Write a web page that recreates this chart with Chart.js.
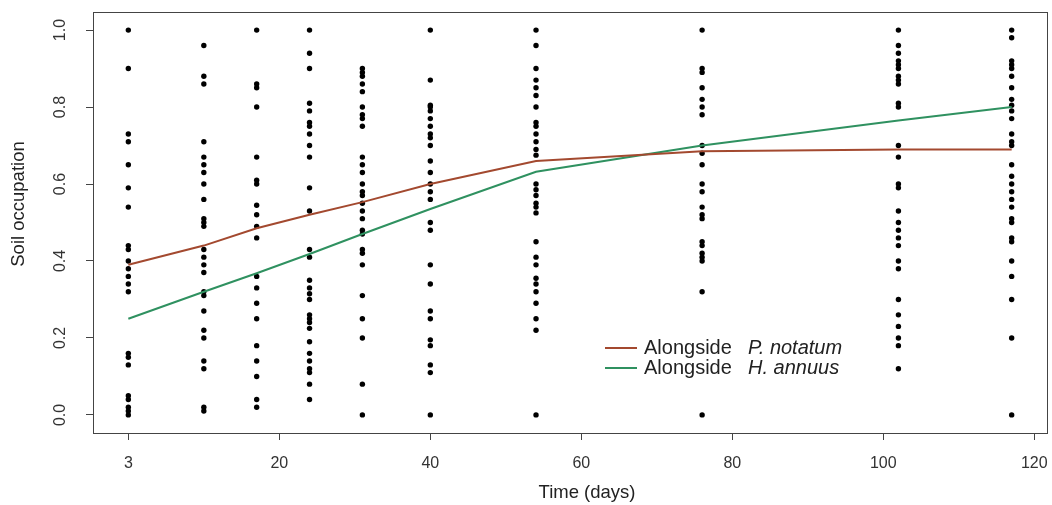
<!DOCTYPE html>
<html>
<head>
<meta charset="utf-8">
<script src="https://cdn.jsdelivr.net/npm/chart.js@4/dist/chart.umd.min.js"></script>
<style>
  html, body { margin: 0; padding: 0; background: #fff; }
</style>
</head>
<body>
<canvas id="myChart" width="1052" height="505"></canvas>
<script>
const ctx = document.getElementById('myChart').getContext('2d');

// sampling days (the first sampling sits on the tick labelled "3")
const days = [0, 10, 17, 24, 31, 40, 54, 76, 102, 117];

// observed soil occupation per sampling day
const occ0 = [1.0, 0.90, 0.73, 0.71, 0.65, 0.59, 0.54, 0.44, 0.43, 0.40, 0.38, 0.36, 0.34, 0.32, 0.16, 0.15, 0.13, 0.05, 0.04, 0.02, 0.01, 0.0];
const occ10 = [0.96, 0.88, 0.86, 0.71, 0.67, 0.65, 0.63, 0.60, 0.56, 0.51, 0.50, 0.49, 0.43, 0.41, 0.39, 0.37, 0.32, 0.31, 0.27, 0.22, 0.20, 0.14, 0.12, 0.02, 0.01];
const occ17 = [1.0, 0.86, 0.85, 0.80, 0.67, 0.61, 0.60, 0.545, 0.52, 0.49, 0.46, 0.36, 0.33, 0.29, 0.25, 0.18, 0.14, 0.10, 0.04, 0.02];
const occ24 = [1.0, 0.94, 0.90, 0.81, 0.79, 0.76, 0.75, 0.73, 0.70, 0.67, 0.59, 0.53, 0.43, 0.41, 0.35, 0.33, 0.315, 0.30, 0.26, 0.25, 0.24, 0.225, 0.19, 0.16, 0.14, 0.12, 0.11, 0.08, 0.04];
const occ31 = [0.90, 0.89, 0.88, 0.86, 0.84, 0.80, 0.78, 0.77, 0.75, 0.67, 0.65, 0.63, 0.60, 0.58, 0.57, 0.55, 0.53, 0.51, 0.48, 0.47, 0.43, 0.42, 0.39, 0.31, 0.25, 0.20, 0.08, 0.0];
const occ40 = [1.0, 0.87, 0.805, 0.80, 0.79, 0.77, 0.75, 0.73, 0.72, 0.70, 0.66, 0.63, 0.60, 0.58, 0.56, 0.50, 0.48, 0.39, 0.34, 0.27, 0.25, 0.195, 0.18, 0.13, 0.11, 0.0];
const occ54 = [1.0, 0.96, 0.90, 0.87, 0.85, 0.83, 0.80, 0.76, 0.75, 0.73, 0.71, 0.69, 0.675, 0.60, 0.585, 0.57, 0.55, 0.54, 0.525, 0.45, 0.41, 0.39, 0.355, 0.34, 0.32, 0.29, 0.25, 0.22, 0.0];
const occ76 = [1.0, 0.90, 0.89, 0.85, 0.82, 0.80, 0.78, 0.70, 0.68, 0.65, 0.60, 0.58, 0.54, 0.52, 0.51, 0.45, 0.44, 0.42, 0.41, 0.40, 0.32, 0.0];
const occ102 = [1.0, 0.96, 0.94, 0.92, 0.91, 0.90, 0.88, 0.87, 0.86, 0.81, 0.80, 0.70, 0.67, 0.60, 0.59, 0.53, 0.50, 0.48, 0.46, 0.44, 0.40, 0.38, 0.30, 0.26, 0.23, 0.20, 0.18, 0.12];
const occ117 = [1.0, 0.98, 0.92, 0.91, 0.90, 0.88, 0.85, 0.82, 0.805, 0.79, 0.77, 0.73, 0.71, 0.70, 0.65, 0.62, 0.60, 0.58, 0.56, 0.54, 0.51, 0.50, 0.46, 0.45, 0.40, 0.36, 0.30, 0.20, 0.0];
const occupation = [occ0, occ10, occ17, occ24, occ31, occ40, occ54, occ76, occ102, occ117];

// fitted curves
const notatumFit = [0.39, 0.44, 0.485, 0.52, 0.553, 0.60, 0.66, 0.685, 0.69, 0.69];
const annuusFit = [0.25, 0.32, 0.368, 0.418, 0.47, 0.535, 0.632, 0.70, 0.765, 0.80];

const xTicks = [0, 20, 40, 60, 80, 100, 120];
const xTickLabels = ['3', '20', '40', '60', '80', '100', '120'];
const yTicks = [0, 0.2, 0.4, 0.6, 0.8, 1.0];
const yTickLabels = ['0.0', '0.2', '0.4', '0.6', '0.8', '1.0'];

const redCol = '#a3492f';
const greenCol = '#2f9160';

const points = [];
days.forEach((d, i) => occupation[i].forEach(v => points.push({x: d, y: v})));

const rStyle = {
    id: 'rStyle',
    afterDraw(chart) {
        const c = chart.ctx;
        const a = chart.chartArea;
        const xs = chart.scales.x, ys = chart.scales.y;
        c.save();
        // plot box
        c.strokeStyle = '#444';
        c.lineWidth = 1;
        c.strokeRect(Math.round(a.left) + 0.5, Math.round(a.top) + 0.5, Math.round(a.right - a.left), Math.round(a.bottom - a.top));

        c.fillStyle = '#333';
        c.font = '16px "Liberation Sans", Arial, sans-serif';
        c.textAlign = 'center';
        c.textBaseline = 'middle';
        xTicks.forEach((v, i) => c.fillText(xTickLabels[i], xs.getPixelForValue(v), 464));
        yTicks.forEach((v, i) => {
            c.save();
            c.translate(61, ys.getPixelForValue(v));
            c.rotate(-Math.PI / 2);
            c.fillText(yTickLabels[i], 0, 0);
            c.restore();
        });

        // axis titles
        c.fillStyle = '#222';
        c.font = '18.5px "Liberation Sans", Arial, sans-serif';
        c.fillText('Time (days)', 587, 493);
        c.save();
        c.translate(19, 204);
        c.rotate(-Math.PI / 2);
        c.fillText('Soil occupation', 0, 0);
        c.restore();

        // legend
        const rows = [
            {col: redCol, sp: 'P. notatum', y: 348},
            {col: greenCol, sp: 'H. annuus', y: 368}
        ];
        rows.forEach(r => {
            c.strokeStyle = r.col;
            c.lineWidth = 2;
            c.beginPath();
            c.moveTo(605, r.y);
            c.lineTo(637, r.y);
            c.stroke();
            c.fillStyle = '#222';
            c.textAlign = 'left';
            c.font = '20px "Liberation Sans", Arial, sans-serif';
            c.fillText('Alongside', 644, r.y);
            c.font = 'italic 20px "Liberation Sans", Arial, sans-serif';
            c.fillText(r.sp, 748, r.y);
        });
        c.restore();
    }
};

const config = {
    type: 'scatter',
    data: {
        datasets: [
            {
                type: 'line',
                data: days.map((d, i) => ({x: d, y: notatumFit[i]})),
                borderColor: redCol,
                borderWidth: 2,
                pointRadius: 0,
                tension: 0,
                order: 0,
            },
            {
                type: 'line',
                data: days.map((d, i) => ({x: d, y: annuusFit[i]})),
                borderColor: greenCol,
                borderWidth: 2,
                pointRadius: 0,
                tension: 0,
                order: 0,
            },
            {
                data: points,
                backgroundColor: '#000',
                borderWidth: 0,
                pointRadius: 2.7,
                order: 1,
            },
        ],
    },
    options: {
        responsive: false,
        animation: false,
        devicePixelRatio: 1,
        layout: { padding: { top: 12, right: 5, left: 0, bottom: 0 } },
        plugins: { legend: { display: false }, tooltip: { enabled: false } },
        scales: {
            x: {
                type: 'linear',
                min: -4.68,
                max: 121.68,
                afterBuildTicks: s => { s.ticks = xTicks.map(v => ({value: v})); },
                afterFit: s => { s.height = 72; },
                ticks: { display: false },
                grid: { drawOnChartArea: false, drawTicks: true, tickLength: 7, color: '#444' },
                border: { display: true, color: '#444' },
            },
            y: {
                type: 'linear',
                min: -0.047,
                max: 1.047,
                afterBuildTicks: s => { s.ticks = yTicks.map(v => ({value: v})); },
                afterFit: s => { s.width = 93; },
                ticks: { display: false },
                grid: { drawOnChartArea: false, drawTicks: true, tickLength: 7, color: '#444' },
                border: { display: true, color: '#444' },
            },
        },
    },
    plugins: [rStyle],
};

const myChart = new Chart(ctx, config);
</script>
</body>
</html>
